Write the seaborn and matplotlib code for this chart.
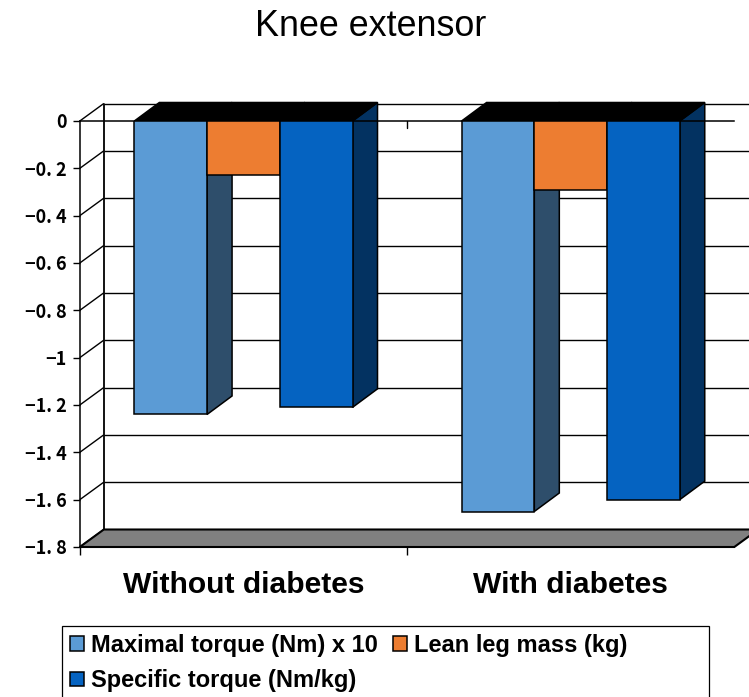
import matplotlib
matplotlib.use("Agg")
import matplotlib.pyplot as plt
from matplotlib.font_manager import FontProperties
from matplotlib.patches import Polygon, Rectangle
from matplotlib.colors import to_rgb
import numpy as np
import pandas as pd
import seaborn as sns

# Change values for each group
groups = ["Without diabetes", "With diabetes"]
series = ["Maximal torque (Nm) x 10", "Lean leg mass (kg)", "Specific torque (Nm/kg)"]
maximal_torque = [-1.24, -1.65]
lean_leg_mass = [-0.23, -0.29]
specific_torque = [-1.21, -1.60]
palette = ["#5B9BD5", "#ED7D31", "#0563C1"]
y_ticks = [0, -0.2, -0.4, -0.6, -0.8, -1, -1.2, -1.4, -1.6, -1.8]
y_tick_labels = ["0", "−0. 2", "−0. 4", "−0. 6", "−0. 8", "−1", "−1. 2", "−1. 4", "−1. 6", "−1. 8"]

W, H = 749, 697
sns.set_style("white")
plt.rcParams["font.family"] = ["Liberation Sans", "DejaVu Sans"]

frame = pd.DataFrame({
    "group": groups * 3,
    "series": np.repeat(series, len(groups)),
    "value": maximal_torque + lean_leg_mass + specific_torque,
})

fig = plt.figure(figsize=(W / 100, H / 100), dpi=100)
ax = fig.add_axes([79.8 / W, (H - 547) / H, 654.5 / W, 426 / H])
ax.patch.set_alpha(0)

sns.barplot(
    data=frame, x="group", y="value", hue="series", order=groups, hue_order=series,
    palette=palette, saturation=1, width=2 / 3, gap=0, edgecolor="black", linewidth=1.1,
    zorder=6, ax=ax,
)
ax.set_xlim(-0.5, 1.5)
ax.set_ylim(-1.8, 0)
ax.set_xlabel("")
ax.set_ylabel("")

# Pixel sizes of the oblique depth, expressed in data units
px_x = 2.0 / 654.5
px_y = 1.8 / 426
wall_dx, wall_dy = 24 * px_x, 17.5 * px_y
bar_dx, bar_dy = 25 * px_x, 18.5 * px_y
x_lo, x_hi = ax.get_xlim()

# Back wall, left wall and floor
line_kw = dict(color="black", lw=1.0, clip_on=False, solid_capstyle="butt")
for v in y_ticks:
    ax.plot([x_lo + wall_dx, x_hi + wall_dx], [v + wall_dy] * 2, zorder=1, **line_kw)
    ax.plot([x_lo, x_lo + wall_dx], [v, v + wall_dy], zorder=1, **line_kw)
ax.plot([x_lo + wall_dx] * 2, [-1.8 + wall_dy, wall_dy], zorder=1.2,
        color="black", lw=1.3, clip_on=False)
ax.add_patch(Polygon(
    [(x_lo, -1.8), (x_lo + wall_dx, -1.8 + wall_dy), (x_hi + wall_dx, -1.8 + wall_dy), (x_hi, -1.8)],
    closed=True, facecolor="#808080", edgecolor="black", lw=1.5, zorder=1.5, clip_on=False,
))

# Side and top faces for every bar, taken from the bars themselves
for container, colour in zip(ax.containers, palette):
    side = tuple(0.5 * c for c in to_rgb(colour))
    for bar in container:
        x0, x1 = bar.get_x(), bar.get_x() + bar.get_width()
        y_end = min(bar.get_y(), bar.get_y() + bar.get_height())
        ax.add_patch(Polygon(
            [(x1, 0), (x1 + bar_dx, bar_dy), (x1 + bar_dx, y_end + bar_dy), (x1, y_end)],
            closed=True, facecolor=side, edgecolor="black", lw=1.1, zorder=3, clip_on=False,
        ))
        ax.add_patch(Polygon(
            [(x0, 0), (x0 + bar_dx, bar_dy), (x1 + bar_dx, bar_dy), (x1, 0)],
            closed=True, facecolor="black", edgecolor="black", lw=1.1, zorder=4, clip_on=False,
        ))

# Axes: the category axis line crosses at zero, with marks between categories
ax.spines["right"].set_visible(False)
for name in ("left", "top", "bottom"):
    ax.spines[name].set_color("black")
    ax.spines[name].set_linewidth(1.1)
    ax.spines[name].set_visible(True)
ax.spines["top"].set_zorder(5)
ax.plot([0.5, 0.5], [0, -7 * px_y], color="black", lw=1.0, zorder=2)

tick_font = FontProperties(family="Noto Sans CJK JP", weight="bold", size=13)
ax.set_yticks(y_ticks)
ax.set_yticklabels(y_tick_labels, fontproperties=tick_font, color="black")
ax.tick_params(axis="y", left=True, length=5, width=1.0, pad=4.5, color="black")

ax.set_xticks([0, 1])
ax.set_xticklabels(groups, fontproperties=FontProperties(family="Liberation Sans", weight="bold", size=21.6),
                   color="black")
ax.tick_params(axis="x", which="major", bottom=False, length=0, pad=17)
ax.set_xticks([-0.5, 0.5], minor=True)
ax.tick_params(axis="x", which="minor", bottom=True, length=5.5, width=1.0, color="black")

fig.text(371 / W, 1 - 26 / H, "Knee extensor", ha="center", va="center",
         family="Liberation Sans", fontsize=25.8, color="black")

# Legend, with its frame running past the lower figure edge
fig.add_artist(Rectangle((62 / W, -0.05), 647 / W, (H - 626) / H + 0.05, transform=fig.transFigure,
                         facecolor="white", edgecolor="black", lw=0.9, zorder=0))
old_legend = ax.get_legend()
handles = list(old_legend.legend_handles)
old_legend.remove()
# The library fills columns first, so the third series goes second to land on row two
ax.legend(
    [handles[0], handles[2], handles[1]], [series[0], series[2], series[1]],
    loc="upper left", bbox_to_anchor=(70 / W, 1 - 634 / H), bbox_transform=fig.transFigure,
    ncol=2, frameon=False, labelcolor="black",
    prop=FontProperties(family="Liberation Sans", weight="bold", size=17),
    borderpad=0, borderaxespad=0, handlelength=0.58, handleheight=0.58, handletextpad=0.3,
    columnspacing=0.65, labelspacing=0.52,
)

fig.savefig("out.png", dpi=100, facecolor="white")
